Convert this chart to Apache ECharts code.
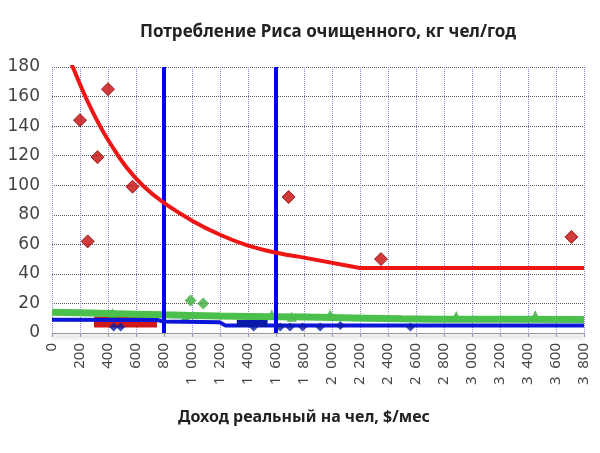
<!DOCTYPE html>
<html>
<head>
<meta charset="utf-8">
<script src="https://cdn.jsdelivr.net/npm/echarts@6/dist/echarts.min.js"></script>
<style>html,body{margin:0;padding:0;background:#fff;}#c{width:600px;height:453px;}</style>
</head>
<body>
<div id="c"></div>
<script>
// ---- data ----
const titleText = 'Потребление Риса очищенного, кг чел/год';
const xAxisTitle = 'Доход реальный на чел, $/мес';
const yTicks = [0, 20, 40, 60, 80, 100, 120, 140, 160, 180];
const xTickStep = 200;

const redPtsX = [200, 255, 325, 400, 575, 1690, 2350, 3710];
const redPtsY = [144, 62, 119, 165, 99, 92, 50, 65];

// curved part of the red fit, then its straight tail
const redFitX = [140, 248, 343, 438, 533, 652, 800, 1010, 1200, 1390, 1593, 1771];
const redFitY = [182, 158, 140, 125, 112, 99.5, 88, 75.5, 66.5, 59.5, 54.5, 51.5];
const redTailX = [1771, 2200, 3800];
const redTailY = [51.5, 44, 44];

const greenFitX = [0, 400, 800, 1200, 1600, 2000, 2500, 3000, 3800];
const greenFitY = [14, 13.2, 12.3, 11.5, 11, 10.5, 9.6, 9.3, 9.2];

const blueFitX = [0, 750, 800, 1200, 1240, 3800];
const blueFitY = [9, 8.8, 7.8, 7.2, 5, 5];

const redBlobX = [300, 750];
const redBlobY = [7.5, 7.5];
const blueBlobX = [1320, 1540];
const blueBlobY = [6.5, 6.5];

const greenTriX = [432, 954, 1570, 1712, 1986, 2887, 3452];
const greenTriY = [13.5, 11, 12.5, 11, 12.5, 11.5, 12];
const greenDiaX = [990, 1080];
const greenDiaY = [22, 20];

const blueDiaX = [440, 490, 1440, 1630, 1700, 1790, 1915, 2060, 2560];
const blueDiaY = [4, 4, 4, 4, 4, 4, 4, 5, 4];

const vLinesX = [800, 1600];

const zip = (xs, ys) => xs.map((x, i) => [x, ys[i]]);
const fmtX = v => {
  const s = String(v);
  return s.length > 3 ? s.slice(0, s.length - 3) + '\u00a0\u00a0' + s.slice(-3) : s;
};

const chart = echarts.init(document.getElementById('c'), null, {renderer: 'canvas'});
chart.setOption({
  animation: false,
  backgroundColor: '#ffffff',
  title: {
    text: titleText,
    left: 323, top: 19, textAlign: 'center',
    textStyle: {fontFamily: 'Noto Sans', fontWeight: 'bold', fontSize: 17, color: '#222'}
  },
  graphic: [{
    type: 'text', x: 304, y: 417,
    style: {text: xAxisTitle, textAlign: 'center', textVerticalAlign: 'middle',
      font: 'bold 16px "Noto Sans"', fill: '#222'}
  }],
  grid: {left: 52, right: 16, top: 67, bottom: 120},
  xAxis: {
    type: 'value', min: 0, max: 3800, interval: xTickStep,
    axisLine: {show: true, lineStyle: {color: '#999', width: 1, shadowColor: 'rgba(0,0,0,0.45)', shadowBlur: 4, shadowOffsetY: 3}},
    axisTick: {show: true, length: 4, lineStyle: {color: '#999'}},
    axisLabel: {rotate: 90, margin: 10, fontFamily: 'Noto Sans', fontSize: 15, color: '#444', formatter: fmtX,
      overflow: 'none', width: 200, hideOverlap: false},
    splitLine: {show: true, lineStyle: {color: '#8a8ad8', type: 'dotted', width: 1}}
  },
  yAxis: {
    type: 'value', min: yTicks[0], max: yTicks[yTicks.length - 1], interval: yTicks[1] - yTicks[0],
    axisLine: {show: false},
    axisTick: {show: false},
    axisLabel: {margin: 12, fontFamily: 'DejaVu Sans', fontSize: 17, color: '#444'},
    splitLine: {show: true, lineStyle: {color: '#555', type: 'dotted', width: 1}}
  },
  series: [
    {
      type: 'line', data: zip(redBlobX, redBlobY), symbol: 'none',
      lineStyle: {color: '#d01818', width: 11}, z: 3
    },
    {
      type: 'line', data: zip(greenFitX, greenFitY), symbol: 'none', smooth: 0.4,
      lineStyle: {color: '#4cc04c', width: 7}, z: 4
    },
    {
      type: 'scatter', data: zip(greenTriX, greenTriY), symbol: 'triangle', symbolSize: 10,
      itemStyle: {color: '#3aa83a'}, z: 3
    },
    {
      type: 'scatter', data: zip(greenDiaX, greenDiaY), symbol: 'diamond', symbolSize: 12,
      itemStyle: {color: '#3cae3c'}, z: 5
    },
    {
      type: 'line', data: zip(blueFitX, blueFitY), symbol: 'none',
      lineStyle: {color: '#0c16d8', width: 4}, z: 5
    },
    {
      type: 'line', data: zip(blueBlobX, blueBlobY), symbol: 'none',
      lineStyle: {color: '#0a1aa8', width: 7}, z: 5
    },
    {
      type: 'scatter', data: zip(blueDiaX, blueDiaY), symbol: 'diamond', symbolSize: 9,
      itemStyle: {color: '#0a1aa8'}, z: 6
    },
    {
      type: 'line', data: zip(redFitX, redFitY), symbol: 'none', smooth: 0.4,
      lineStyle: {color: '#ee1515', width: 4}, z: 6
    },
    {
      type: 'line', data: zip(redTailX, redTailY), symbol: 'none',
      lineStyle: {color: '#ee1515', width: 4}, z: 6
    },
    {
      type: 'scatter', data: zip(redPtsX, redPtsY), symbol: 'diamond', symbolSize: 13,
      itemStyle: {color: '#c40a0a', borderColor: '#8a0000', borderWidth: 1}, z: 7,
      markLine: {
        silent: true, symbol: 'none', label: {show: false},
        lineStyle: {color: '#0000ee', width: 4, type: 'solid'},
        data: vLinesX.map(x => ({xAxis: x}))
      }
    }
  ]
});
</script>
</body>
</html>
